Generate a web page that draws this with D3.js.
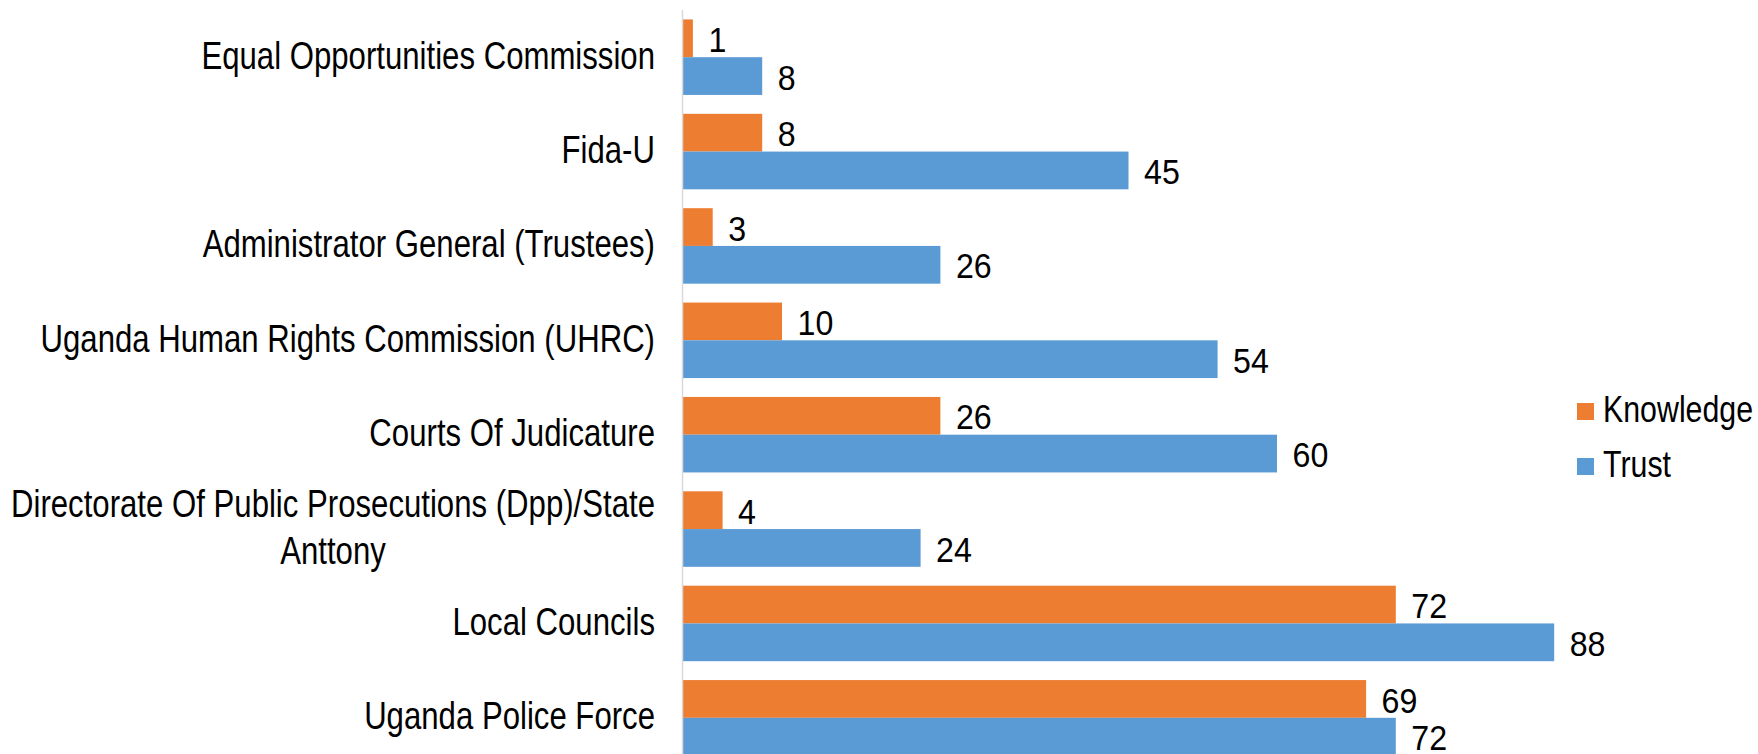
<!DOCTYPE html>
<html>
<head>
<meta charset="utf-8">
<script src="https://cdn.jsdelivr.net/npm/d3@7"></script>
<style>
  body { margin: 0; background: #fff; }
  svg { display: block; }
  text { font-family: "Liberation Sans", Arial, sans-serif; fill: #000; }
</style>
</head>
<body>
<div id="chart"></div>
<script>
const categories = [
  "Equal Opportunities Commission",
  "Fida-U",
  "Administrator General (Trustees)",
  "Uganda Human Rights Commission (UHRC)",
  "Courts Of Judicature",
  "Directorate Of Public Prosecutions (Dpp)/State Anttony",
  "Local Councils",
  "Uganda Police Force"
];
const knowledge = [1, 8, 3, 10, 26, 4, 72, 69];
const trust = [8, 45, 26, 54, 60, 24, 88, 72];
const seriesNames = ["Knowledge", "Trust"];
const seriesColors = ["#ED7D31", "#5B9BD5"];

const width = 1758, height = 754;
// the original uses a narrow face; squeeze Liberation Sans to match
const narrow = 0.82;
const narrowDigits = 0.92;

const svg = d3.select("#chart").append("svg")
  .attr("width", width)
  .attr("height", height);

const x = d3.scaleLinear().domain([0, 100]).range([683, 1673]);

const y = d3.scaleBand()
  .domain(categories)
  .range([10, 765])
  .paddingInner(0.2)
  .paddingOuter(0.1);

const ySub = d3.scaleBand()
  .domain(seriesNames)
  .range([0, y.bandwidth()]);

const rows = categories.map((c, i) => ({
  category: c,
  values: [
    { series: "Knowledge", value: knowledge[i] },
    { series: "Trust", value: trust[i] }
  ]
}));

const color = d3.scaleOrdinal().domain(seriesNames).range(seriesColors);

const groups = svg.append("g")
  .selectAll("g")
  .data(rows)
  .join("g")
  .attr("transform", (d) => `translate(0,${y(d.category)})`);

groups.selectAll("rect")
  .data((d) => d.values)
  .join("rect")
  .attr("x", x(0))
  .attr("y", (d) => ySub(d.series))
  .attr("width", (d) => x(d.value) - x(0))
  .attr("height", ySub.bandwidth())
  .attr("fill", (d) => color(d.series));

groups.selectAll("text.value")
  .data((d) => d.values)
  .join("text")
  .attr("class", "value")
  .attr("transform", (d) =>
    `translate(${x(d.value) + 15.5},${ySub(d.series) + ySub.bandwidth() / 2 + 1}) scale(${narrowDigits},1)`)
  .attr("dy", "0.36em")
  .style("font-size", "35px")
  .text((d) => d.value);

// vertical axis line
svg.append("line")
  .attr("x1", x(0) - 0.5)
  .attr("x2", x(0) - 0.5)
  .attr("y1", 10)
  .attr("y2", height)
  .attr("stroke", "#D9D9D9")
  .attr("stroke-width", 1.5);

// category labels, wrapped like the original
const labelRight = 655;
const labelSize = 38;
const wrapped = {
  "Directorate Of Public Prosecutions (Dpp)/State Anttony":
    ["Directorate Of Public Prosecutions (Dpp)/State", "Anttony"]
};

categories.forEach((c) => {
  const lines = wrapped[c] || [c];
  const cy = y(c) + y.bandwidth() / 2;
  const lineH = labelSize * 1.24;
  const top = cy - (lines.length - 1) * lineH / 2;
  const g = svg.append("g");
  const t0 = g.append("text")
    .style("font-size", labelSize + "px")
    .attr("text-anchor", "end")
    .attr("dy", "0.3em")
    .attr("transform", `translate(${labelRight},${top}) scale(${narrow},1)`)
    .text(lines[0]);
  const w0 = t0.node().getComputedTextLength() * narrow;
  lines.slice(1).forEach((ln, j) => {
    g.append("text")
      .style("font-size", labelSize + "px")
      .attr("text-anchor", "middle")
      .attr("dy", "0.3em")
      .attr("transform",
        `translate(${labelRight - w0 / 2},${top + (j + 1) * lineH}) scale(${narrow},1)`)
      .text(ln);
  });
});

// legend
const legend = svg.append("g")
  .selectAll("g")
  .data(seriesNames)
  .join("g")
  .attr("transform", (d, i) => `translate(1577,${403 + i * 55})`);

legend.append("rect")
  .attr("width", 17)
  .attr("height", 17)
  .attr("fill", (d) => color(d));

legend.append("text")
  .attr("transform", `translate(26,7) scale(${narrow},1)`)
  .attr("dy", "0.32em")
  .style("font-size", "37px")
  .text((d) => d);
</script>
</body>
</html>
